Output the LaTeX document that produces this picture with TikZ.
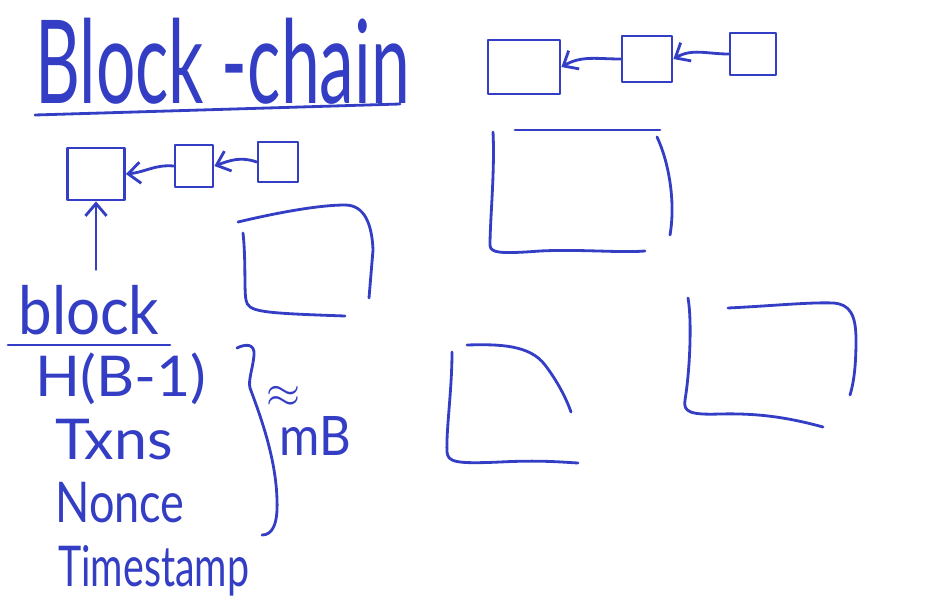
\documentclass[tikz,border=0pt]{standalone}
\usepackage{fontspec}
\usepackage{amsmath}
\usepackage{tikz}
\usetikzlibrary{arrows.meta,positioning,calc}
\newfontfamily\handfont{Lato}
\definecolor{inkblue}{RGB}{52,62,196}
\tikzset{
  ink/.style={draw=inkblue,line width=1.6pt,line cap=round,line join=round},
  hand/.style 2 args={text=inkblue,inner sep=0pt,anchor=base west,
    font=\handfont\addfontfeature{FakeStretch=#2}\fontsize{#1pt}{#1pt}\selectfont,
    text height={0.72*#1pt},text depth={0.05*#1pt}},
  cell/.style={ink,rectangle,minimum width=#1,inner sep=0pt},
  cell/.default=1cm,
  arr/.style={ink,-{Straight Barb[length=7pt,width=12pt]}}
}

\begin{document}
\begin{tikzpicture}[x=0.02cm,y=-0.02cm]
    \fill[white] (0,0) rectangle (935,605);
    \useasboundingbox (0,0) rectangle (935,605);

    % Title
    \node[hand={66}{0.6}] (title) at (35,103) {Block -chain};
    \draw[ink] (35,115) -- (400,104);

    % Chain, top right
    \node[cell=1.44cm,minimum height=1.08cm] (tA) at (524,67) {};
    \node[cell=1.0cm,minimum height=0.92cm] (tB) at (647,59) {};
    \node[cell=0.92cm,minimum height=0.84cm] (tC) at (753,54) {};
    \draw[arr] (tB.west) to[out=180,in=30] (tA.east);
    \draw[arr] (tC.west) to[out=180,in=30] (tB.east);

    % Chain, left
    \node[cell=1.14cm,minimum height=1.04cm] (sA) at (96,174) {};
    \node[cell=0.76cm,minimum height=0.84cm] (sB) at (194,166) {};
    \node[cell=0.8cm,minimum height=0.8cm] (sC) at (278,162) {};
    \draw[arr] (sB.west) to[out=175,in=5] (sA.east);
    \draw[arr] (sC.west) to[out=160,in=20] (sB.east);

    % Block fields
    \node[hand={38}{0.9}] (blk) at (18,334) {block};
    \draw[ink] (8,345) -- (170,345);
    \draw[arr,shorten <=0.32cm] (sA.south |- blk.north) -- (sA.south);
    \node[hand={32}{1.05}] (hash) at (35,396) {H(B-1)};
    \node[hand={32}{1.05}] (txns) at (55,459) {Txns};
    \node[hand={32}{0.8}] (nonce) at (55,522) {Nonce};
    \node[hand={32}{0.7}] (stamp) at (58,586) {Timestamp};

    % Brace and size
    \draw[ink] (237,348) .. controls (245,344) and (255,343) .. (254,355)
      .. controls (253,368) and (248,380) .. (250,388)
      .. controls (262,420) and (276,460) .. (277,500)
      .. controls (278,525) and (272,535) .. (262,535);
    \node[text=inkblue,font=\fontsize{27pt}{27pt}\selectfont,inner sep=0pt] (approx) at (283,397) {$\approx$};
    \node[hand={31}{0.9}] (size) at (279,455) {mB};

    % Sketched blocks
    \draw[ink] (238,222) .. controls (280,212) and (320,205) .. (345,205)
      .. controls (365,205) and (372,225) .. (373,250) -- (369,298);
    \draw[ink] (243,233) .. controls (246,260) and (244,290) .. (246,300)
      .. controls (248,312) and (260,313) .. (345,316);
    \draw[ink] (515,130) -- (660,130);
    \draw[ink] (493,132) .. controls (495,170) and (490,220) .. (490,245)
      .. controls (490,253) and (500,254) .. (540,251)
      .. controls (580,249) and (620,253) .. (645,251);
    \draw[ink] (657,137) .. controls (668,160) and (676,200) .. (670,235);
    \draw[ink] (452,352) .. controls (452,390) and (446,430) .. (447,452)
      .. controls (448,462) and (455,464) .. (500,462)
      .. controls (540,460) and (560,462) .. (578,463);
    \draw[ink] (467,345) .. controls (500,344) and (530,345) .. (545,365)
      .. controls (555,378) and (565,395) .. (571,412);
    \draw[ink] (688,298) .. controls (692,320) and (690,370) .. (685,400)
      .. controls (683,412) and (690,415) .. (720,414)
      .. controls (760,413) and (790,418) .. (823,427);
    \draw[ink] (728,308) .. controls (770,306) and (810,302) .. (833,303)
      .. controls (850,304) and (856,315) .. (856,340)
      .. controls (856,370) and (853,385) .. (850,395);
  \end{tikzpicture}
\end{document}
